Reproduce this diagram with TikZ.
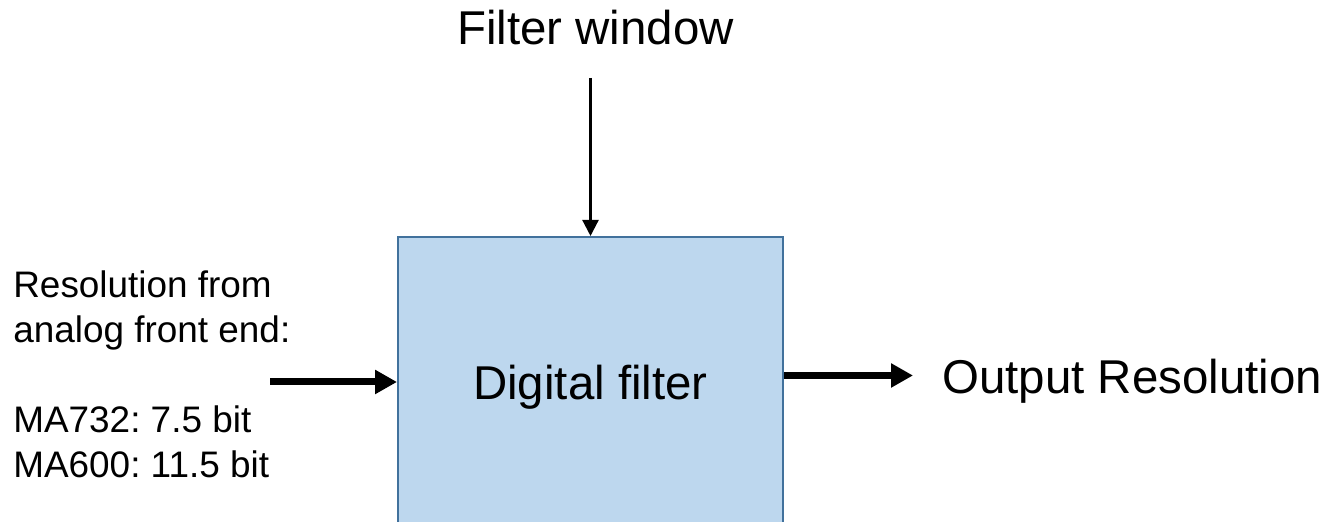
\documentclass[tikz,border=0pt]{standalone}
\usepackage{fontspec}
\setmainfont{Liberation Sans}
\usetikzlibrary{arrows.meta}

\definecolor{blockfill}{HTML}{BDD7EE}
\definecolor{blockline}{HTML}{41719C}

\tikzset{
  filterbox/.style={draw=blockline, fill=blockfill, line width=0.04cm,
    minimum width=7.7cm, minimum height=5.72cm, inner sep=0pt},
  bigtext/.style={inner sep=0pt, font=\fontsize{27}{32}\selectfont},
  smalltext/.style={inner sep=0pt, align=left,
    font=\fontsize{21}{25.6}\selectfont},
  fatarrow/.style={line width=0.14cm, -{Triangle[length=0.44cm, width=0.46cm]}},
  thinarrow/.style={line width=0.045cm, -{Triangle[length=0.32cm, width=0.32cm]}}
}

\begin{document}
\frenchspacing
\begin{tikzpicture}
  \useasboundingbox (0,0) rectangle (26.64,10.46);
  \clip (0,0.03) rectangle (26.64,10.46);

  % Filter block
  \node[filterbox] (filter) at (11.81,2.86) {};
  \node[bigtext, anchor=base] (filtertext) at (11.81,2.46) {Digital filter};

  % Window setting on top
  \node[bigtext, anchor=base] (window) at (11.91,9.56) {Filter window};
  \coordinate (wintop) at (11.81,8.9);
  \draw[thinarrow] (wintop) -- (filter.north);

  % Input from analog front end
  \node[smalltext, anchor=north west] (source) at (0.26,5.05)
    {Resolution from\\analog front end:\\[25.6pt]MA732: 7.5 bit\\MA600: 11.5 bit};
  \coordinate (inbegin) at (5.4,2.82);
  \draw[fatarrow] (inbegin) -- (inbegin -| filter.west);

  % Output
  \coordinate (outend) at (18.26,2.95);
  \draw[fatarrow] (outend -| filter.east) -- (outend);
  \node[bigtext, anchor=base west] (output) at (18.84,2.58) {Output Resolution};
\end{tikzpicture}
\end{document}
